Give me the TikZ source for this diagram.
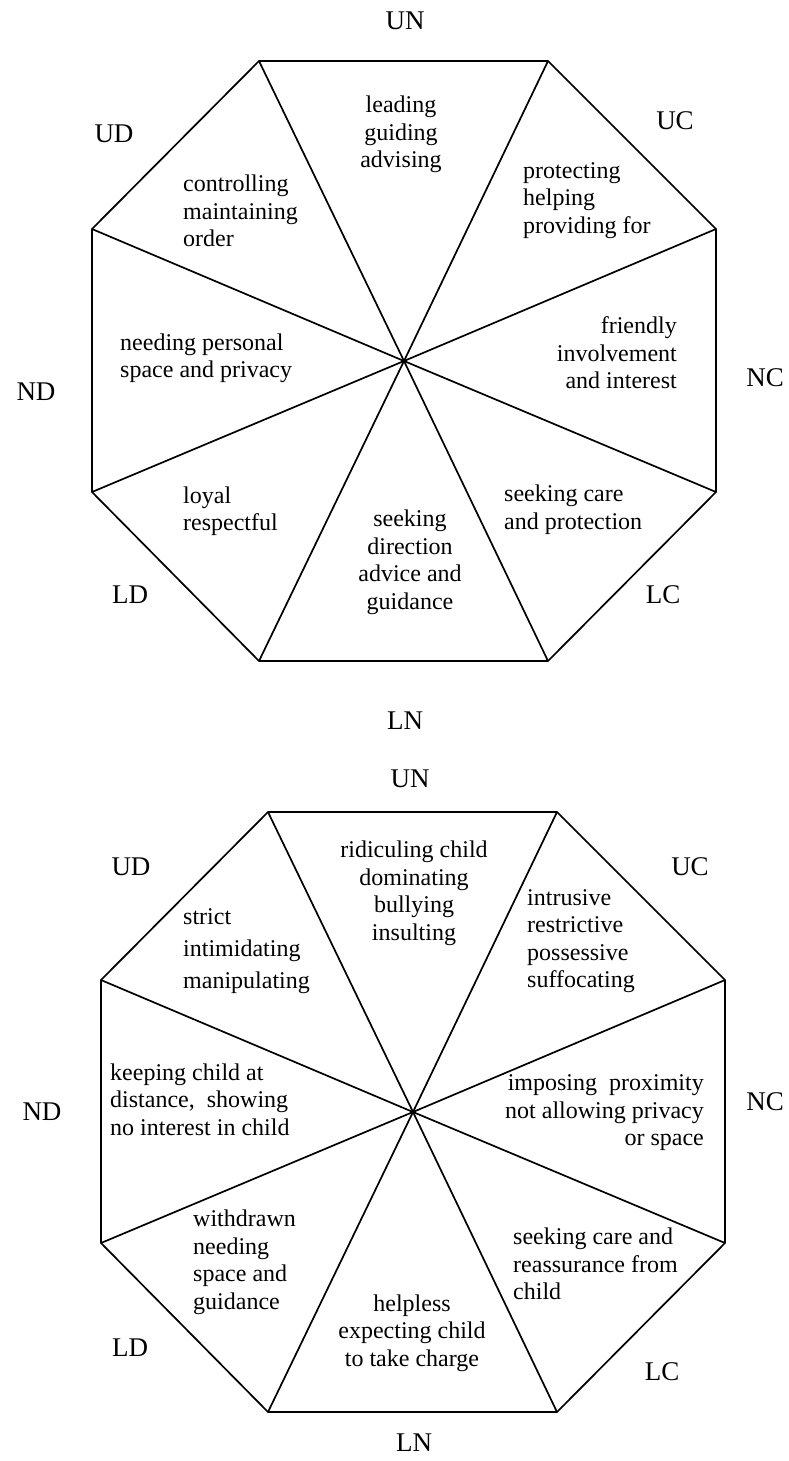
\documentclass[tikz,border=0pt]{standalone}
\usepackage{fontspec}
\setmainfont{Liberation Serif}
\begin{document}
\begin{tikzpicture}[x=1pt,y=-1pt,
  edge/.style={line width=1.7pt,line join=miter},
  txt/.style={inner sep=0pt,font=\fontsize{24}{27.5}\selectfont},
  lab/.style={inner sep=0pt,font=\fontsize{27}{30}\selectfont}]
\useasboundingbox[fill=white] (0,0) rectangle (789,1461);
% ---------- top octagon ----------
\coordinate (a1) at (259,61);
\coordinate (a2) at (548,61);
\coordinate (a3) at (716,229);
\coordinate (a4) at (716,492);
\coordinate (a5) at (548,661);
\coordinate (a6) at (259,661);
\coordinate (a7) at (92,492);
\coordinate (a8) at (92,229);
\coordinate (ac) at (404,361);
\draw[edge] (a1)--(a2)--(a3)--(a4)--(a5)--(a6)--(a7)--(a8)--cycle;
\foreach \i in {1,...,8}{\draw[edge] (ac)--(a\i);}
\node[txt,anchor=west,align=left] (t1) at (183,211) {controlling\\maintaining\\order};
\node[txt,anchor=center,align=center] (t2) at (401,134.5) {leading\\guiding\\advising};
\node[txt,anchor=west,align=left] (t3) at (523,200.5) {protecting\\helping\\providing for};
\node[txt,anchor=west,align=left] (t4) at (120,358.5) {needing personal\\space and privacy};
\node[txt,anchor=east,align=right] (t5) at (677,353) {friendly\\involvement\\and interest};
\node[txt,anchor=west,align=left] (t6) at (183,511) {loyal\\respectful};
\node[txt,anchor=center,align=center] (t7) at (410,562.5) {seeking\\direction\\advice and\\guidance};
\node[txt,anchor=west,align=left] (t8) at (504,509.5) {seeking care\\and protection};
\node[lab] (aUN) at (405,21) {UN};
\node[lab] (aUD) at (114,134) {UD};
\node[lab] (aUC) at (675,121) {UC};
\node[lab] (aND) at (36,392) {ND};
\node[lab] (aNC) at (765,378) {NC};
\node[lab] (aLD) at (130,595) {LD};
\node[lab] (aLC) at (663,595) {LC};
\node[lab] (aLN) at (405,721) {LN};
% ---------- bottom octagon ----------
\coordinate (b1) at (268,812);
\coordinate (b2) at (557,812);
\coordinate (b3) at (725,980);
\coordinate (b4) at (725,1243);
\coordinate (b5) at (557,1412);
\coordinate (b6) at (268,1412);
\coordinate (b7) at (101,1243);
\coordinate (b8) at (101,980);
\coordinate (bc) at (413,1112);
\draw[edge] (b1)--(b2)--(b3)--(b4)--(b5)--(b6)--(b7)--(b8)--cycle;
\foreach \i in {1,...,8}{\draw[edge] (bc)--(b\i);}
\node[txt,anchor=center,align=center] (s1) at (414,893.5) {ridiculing child\\dominating\\bullying\\insulting};
\node[txt,anchor=west,align=left,font=\fontsize{24}{32}\selectfont] (s2) at (183,951) {strict\\intimidating\\manipulating};
\node[txt,anchor=west,align=left] (s3) at (527,941) {intrusive\\restrictive\\possessive\\suffocating};
\node[txt,anchor=west,align=left] (s4) at (110,1099.5) {keeping child at\\distance,\ \ showing\\no interest in child};
\node[txt,anchor=east,align=right] (s5) at (704,1113) {imposing\ \ proximity\\not allowing privacy\\or space};
\node[txt,anchor=west,align=left] (s6) at (193,1262) {withdrawn\\needing\\space and\\guidance};
\node[txt,anchor=west,align=left] (s7) at (513,1264) {seeking care and\\reassurance from\\child};
\node[txt,anchor=center,align=center] (s8) at (412,1333) {helpless\\expecting child\\to take charge};
\node[lab] (bUN) at (410,779) {UN};
\node[lab] (bUD) at (131,867) {UD};
\node[lab] (bUC) at (690,867) {UC};
\node[lab] (bND) at (42,1112) {ND};
\node[lab] (bNC) at (765,1102) {NC};
\node[lab] (bLD) at (130,1348) {LD};
\node[lab] (bLC) at (662,1372) {LC};
\node[lab] (bLN) at (414,1443) {LN};
\end{tikzpicture}
\end{document}
